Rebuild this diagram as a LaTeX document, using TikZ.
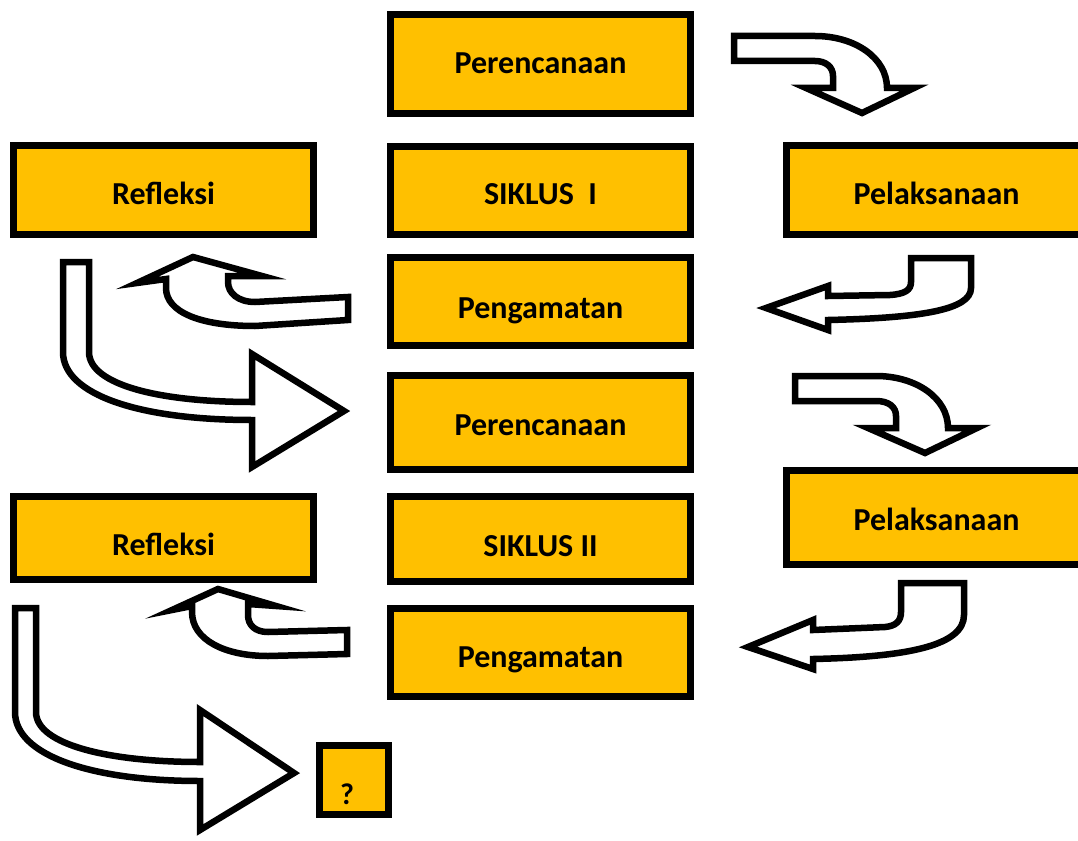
\documentclass[tikz,border=0pt]{standalone}
\usepackage{fontspec}
\setmainfont{Carlito}
\usetikzlibrary{positioning}
\definecolor{stagegold}{HTML}{FFC000}
\tikzstyle{stage} = [rectangle, draw=black, fill=stagegold, line width=7pt, minimum width=300pt, inner sep=0pt, text height=20pt, text depth=0pt, font=\fontsize{32}{38}\selectfont\bfseries]
\tikzstyle{bent} = [draw=black, fill=white, line width=6.5pt, line join=miter]

\begin{document}
\begin{tikzpicture}[x=1pt, y=-1pt]
    \useasboundingbox (0,0) rectangle (1078,840);
    \clip (0,0) rectangle (1078,840);
    % Nodes
    \node [stage, minimum height=99pt] (plan1) at (540.5,64) {Perencanaan};
    \node [stage, minimum height=88pt, text height=28pt] (cycle1) at (540.5,190.5) {SIKLUS\ \ I};
    \node [stage, minimum height=89pt, text height=28pt] (reflect1) at (163.5,190) {Refleksi};
    \node [stage, minimum height=89pt, text height=28pt] (act1) at (936.5,190) {Pelaksanaan};
    \node [stage, minimum height=88pt, text height=34pt] (observe1) at (540.5,301.5) {Pengamatan};
    \node [stage, minimum height=94pt, text height=26pt] (plan2) at (540.5,422.5) {Perencanaan};
    \node [stage, minimum height=83pt, text height=34pt] (reflect2) at (163.5,538) {Refleksi};
    \node [stage, minimum height=85pt, text height=34pt] (cycle2) at (540.5,539) {SIKLUS II};
    \node [stage, minimum height=94pt, text height=25pt] (act2) at (936.5,517.5) {Pelaksanaan};
    \node [stage, minimum height=88pt, text height=30pt] (observe2) at (540.5,652.5) {Pengamatan};
    \node [stage, minimum width=69pt, minimum height=69pt,
           label={[font=\fontsize{30}{36}\selectfont\bfseries, xshift=-7pt, yshift=-14pt]center:?}] (next) at (354,780) {};

    % Arrows
    % plan1 -> act1
    \path [bent] (734,36) -- (815,36) .. controls (855,36) and (887,58) .. (887,88) -- (914,88) -- (862,113)
        -- (806,88) -- (833,88) -- (833,76) .. controls (833,67) and (826,61) .. (815,61) -- (734,61) -- cycle;
    % act1 -> observe1
    \path [bent] (911,258) -- (971,258) -- (971,288) .. controls (971,310) and (920,318) .. (828,320) -- (828,330)
        -- (766,308) -- (828,286) -- (828,296) -- (890,295) .. controls (905,294) and (911,290) .. (911,282) -- cycle;
    % observe1 -> reflect1
    \path [bent] (348,297) -- (255,302) .. controls (238,302) and (228,293) .. (228,282) -- (228,276) -- (262,276)
        -- (193,257) -- (137,283) -- (166,279) -- (166,288) .. controls (166,312) and (200,326) .. (255,326) -- (348,320) -- cycle;
    % reflect1 -> plan2
    \path [bent] (63,262) -- (89,262) -- (89,352) .. controls (89,385) and (160,402) .. (252,402) -- (252,354)
        -- (344,411) -- (252,467) -- (252,420) .. controls (140,420) and (63,395) .. (63,352) -- cycle;
    % plan2 -> act2
    \path [bent] (795,376) -- (876,376) .. controls (916,376) and (948,398) .. (948,428) -- (977,428) -- (925,453)
        -- (868,428) -- (896,428) -- (896,416) .. controls (896,407) and (889,401) .. (876,401) -- (795,401) -- cycle;
    % act2 -> observe2
    \path [bent] (901,583) -- (964,583) -- (964,615) .. controls (964,645) and (910,657) .. (813,659) -- (813,669)
        -- (748,647) -- (813,620) -- (813,630) -- (885,627) .. controls (896,626) and (901,621) .. (901,612) -- cycle;
    % observe2 -> reflect2
    \path [bent] (347,630) -- (268,632) .. controls (255,632) and (248,625) .. (248,615) -- (248,604) -- (276,606)
        -- (218,589) -- (172,610) -- (192,606) -- (192,612) .. controls (192,640) and (225,656) .. (268,656) -- (347,654) -- cycle;
    % reflect2 -> next
    \path [bent] (15,608) -- (36,608) -- (36,712) .. controls (36,745) and (110,762) .. (200,762) -- (200,710)
        -- (294,773) -- (200,830) -- (200,781) .. controls (90,781) and (15,755) .. (15,712) -- cycle;
\end{tikzpicture}
\end{document}
